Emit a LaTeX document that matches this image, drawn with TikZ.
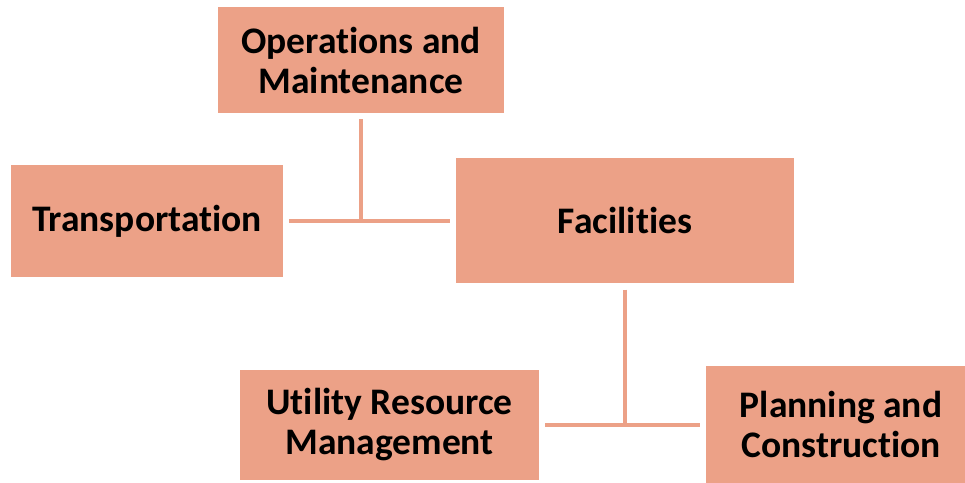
\documentclass[tikz,border=0pt]{standalone}
\usepackage{fontspec}
\setmainfont{Carlito}[Ligatures=NoCommon]
\definecolor{salmon}{RGB}{236,161,135}
\begin{document}
\begin{tikzpicture}[x=1pt,y=-1pt]
		\tikzstyle{block}=[rectangle,fill=salmon,inner sep=0pt,align=center,font=\fontsize{37.5}{40}\selectfont\bfseries]
		\tikzstyle{link}=[draw=salmon,line width=4.5pt]
		\useasboundingbox (0,0) rectangle (965,482);
		\node[block,minimum width=286pt,minimum height=106pt] (ops) at (361,60) {Operations and\\Maintenance};
		\node[block,minimum width=272pt,minimum height=112pt] (trans) at (147,221) {Transportation};
		\node[block,minimum width=338pt,minimum height=125pt] (fac) at (625,220) {Facilities};
		\node[block,minimum width=299pt,minimum height=110pt] (util) at (389.5,425) {Utility Resource\\Management};
		\node[block,minimum width=270pt,minimum height=117pt] (plan) at (841,424) {Planning and\\Construction};
		\coordinate (j_1) at (ops.south |- trans.east);
		\coordinate (j_2) at (fac.south |- util.east);
		\draw[link,shorten <=6pt] (ops.south) -- (j_1);
		\draw[link,shorten <=6pt,shorten >=6pt] (trans.east) -- (trans.east -| fac.west);
		\draw[link,shorten <=7pt] (fac.south) -- (j_2);
		\draw[link,shorten <=6pt,shorten >=6pt] (util.east) -- (util.east -| plan.west);
	\end{tikzpicture}
\end{document}
